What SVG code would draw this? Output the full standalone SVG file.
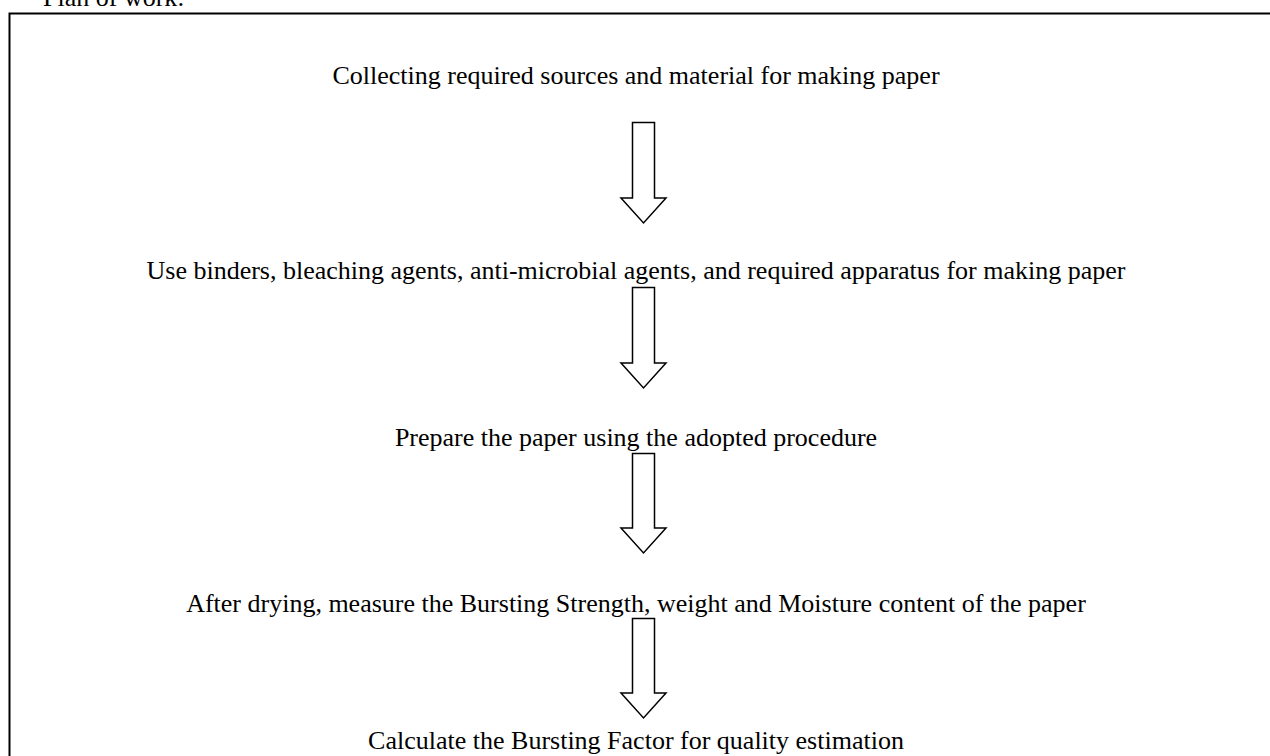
<svg xmlns="http://www.w3.org/2000/svg" width="1270" height="756" viewBox="0 0 1270 756">
<style>
.t{font-family:"Liberation Serif","Times New Roman",serif;font-size:26px;fill:#000;text-anchor:middle}
.a{fill:#fff;stroke:#000;stroke-width:1.5;stroke-linejoin:miter}
</style>
<rect width="1270" height="756" fill="#fff"/>
<text x="43" y="6" style="font-family:'Liberation Serif',serif;font-size:26px">Plan of work:</text>
<rect id="frame" x="9.5" y="13.5" width="1280" height="800" fill="none" stroke="#000" stroke-width="2"/>
<g id="n1"><text class="t" x="636" y="84">Collecting required sources and material for making paper</text></g>
<g id="n2"><text class="t" x="636" y="279">Use binders, bleaching agents, anti-microbial agents, and required apparatus for making paper</text></g>
<g id="n3"><text class="t" x="636" y="446">Prepare the paper using the adopted procedure</text></g>
<g id="n4"><text class="t" x="636" y="612">After drying, measure the Bursting Strength, weight and Moisture content of the paper</text></g>
<g id="n5"><text class="t" x="636" y="749">Calculate the Bursting Factor for quality estimation</text></g>
<g id="connectors">
<path class="a" d="M632.5,122.5 H654.5 V198 H666 L643.5,223 L621,198 H632.5 Z"/>
<path class="a" d="M632.5,287.5 H654.5 V363 H666 L643.5,388 L621,363 H632.5 Z"/>
<path class="a" d="M632.5,453.5 H654.5 V528 H666 L643.5,553 L621,528 H632.5 Z"/>
<path class="a" d="M632.5,618.5 H654.5 V693 H666 L643.5,718 L621,693 H632.5 Z"/>
</g>
</svg>
